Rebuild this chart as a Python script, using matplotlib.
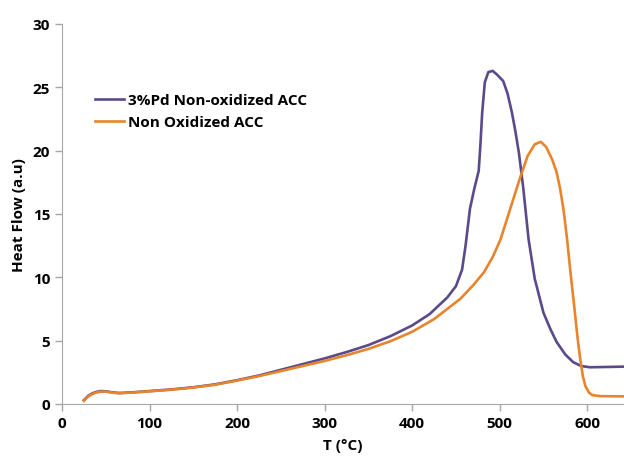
import matplotlib.pyplot as plt

# Temperatura e fluxo de calor
t_pd = [25, 30, 35, 40, 45, 50, 55, 60, 65, 70, 80, 100, 125, 150, 175, 200, 225, 250,
        275, 300, 325, 350, 375, 400, 420, 440, 450, 457, 461, 466, 471, 476, 478, 480,
        483, 487, 492, 497, 504, 509, 514, 518, 522, 527, 533, 540, 550, 558, 565, 575,
        584, 593, 603, 620, 642]
hf_pd = [0.3, 0.65, 0.85, 0.97, 1.02, 1.0, 0.95, 0.9, 0.87, 0.88, 0.92, 1.02, 1.15, 1.32,
         1.55, 1.88, 2.25, 2.7, 3.15, 3.6, 4.1, 4.65, 5.35, 6.2, 7.1, 8.4, 9.3, 10.6, 12.5,
         15.4, 17.0, 18.4, 20.5, 23.0, 25.4, 26.2, 26.3, 26.0, 25.5, 24.5, 23.0, 21.5, 19.8,
         17.0, 13.0, 9.9, 7.2, 5.9, 4.9, 3.9, 3.3, 3.0, 2.9, 2.92, 2.95]

t_acc = [25, 30, 35, 40, 45, 50, 55, 60, 65, 70, 80, 100, 125, 150, 175, 200, 225, 250,
         275, 300, 325, 350, 375, 400, 425, 455, 470, 482, 492, 501, 512, 523, 532, 540,
         547, 553, 560, 565, 569, 573, 577, 581, 585, 589, 592, 595, 598, 602, 606, 615,
         642]
hf_acc = [0.25, 0.6, 0.8, 0.92, 0.98, 0.97, 0.93, 0.88, 0.85, 0.87, 0.9, 1.0, 1.13,
          1.3, 1.52, 1.85, 2.2, 2.6, 3.0, 3.4, 3.85, 4.35, 4.95, 5.7, 6.7, 8.3, 9.4, 10.4,
          11.6, 13.0, 15.4, 17.8, 19.6, 20.5, 20.7, 20.3, 19.3, 18.3, 17.0, 15.3, 13.0,
          10.3, 7.8, 5.2, 3.55, 2.2, 1.4, 0.9, 0.7, 0.62, 0.6]

nomes = ['3%Pd Non-oxidized ACC', 'Non Oxidized ACC']
cores = ['#5b4a8b', '#e8842c']

plt.rcParams['font.family'] = ['Open Sans', 'DejaVu Sans']
plt.rcParams['font.weight'] = 'bold'

fig = plt.figure(figsize=(6.24, 4.6), dpi=100)
ax = fig.add_axes([62 / 624, 55 / 460, 1 - 62 / 624, 380 / 460])

ax.plot(t_pd, hf_pd, color=cores[0], lw=1.9, label=nomes[0])
ax.plot(t_acc, hf_acc, color=cores[1], lw=1.9, label=nomes[1])

ax.set_xlim(0, 642)
ax.set_ylim(0, 30)
ax.set_xticks(range(0, 700, 100))
ax.set_yticks(range(0, 35, 5))

for lado in ['top', 'right']:
    ax.spines[lado].set_visible(False)
for lado in ['left', 'bottom']:
    ax.spines[lado].set_color('#a6a6a6')
ax.tick_params(colors='#a6a6a6', labelcolor='black', labelsize=11, length=5, width=1)
for rot in ax.get_xticklabels() + ax.get_yticklabels():
    rot.set_fontweight('bold')

ax.set_xlabel('T (°C)', fontsize=11, fontweight='bold', labelpad=6)
ax.set_ylabel('Heat Flow (a.u)', fontsize=11, fontweight='bold', labelpad=5)

ax.legend(loc='upper left', bbox_to_anchor=(0.035, 0.855), frameon=False, fontsize=11,
          handlelength=1.9, handletextpad=0.25, labelspacing=0.55)

plt.savefig('out.png', dpi=100)
